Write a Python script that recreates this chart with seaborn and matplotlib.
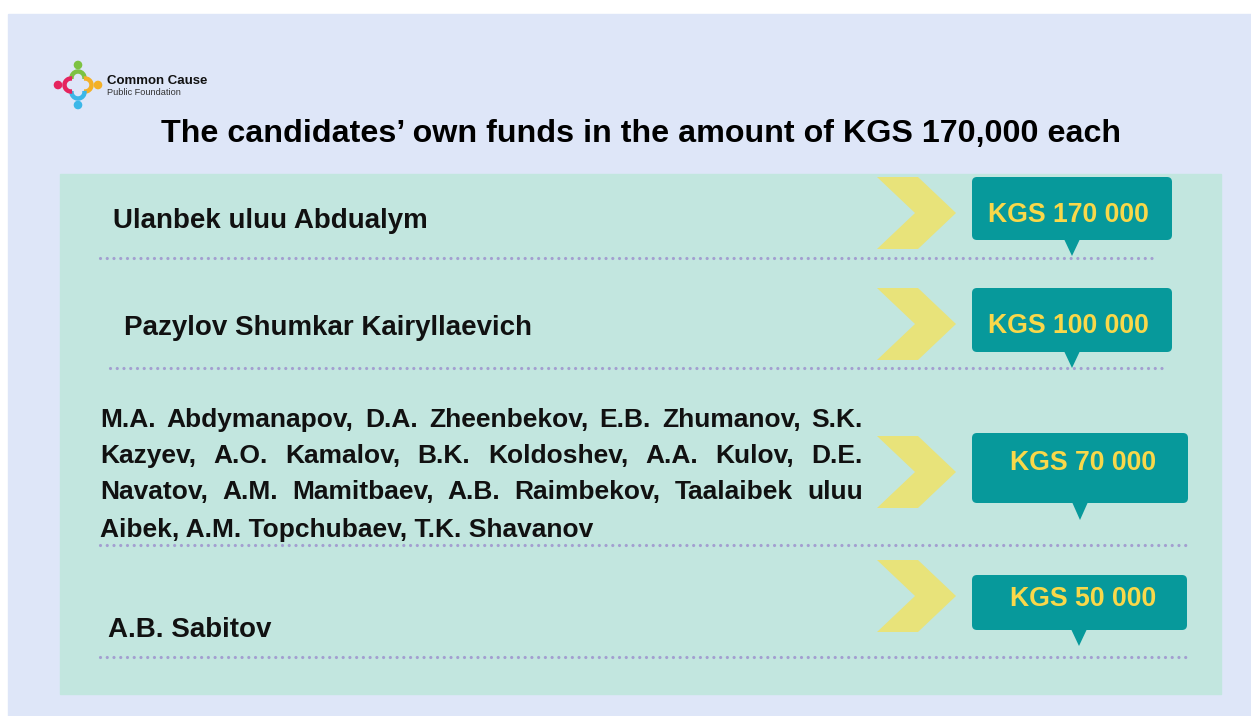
import matplotlib
matplotlib.use("Agg")
import matplotlib.pyplot as plt
import seaborn as sns
from matplotlib.patches import Rectangle, FancyBboxPatch, Polygon, Circle, Arc

# ------------------------------------------------------------
# data
# ------------------------------------------------------------
title = "The candidates\u2019 own funds in the amount of KGS 170,000 each"
org_name = "Common Cause"
org_sub = "Public Foundation"

candidates = [
    ["Ulanbek uluu Abdualym"],
    ["Pazylov Shumkar Kairyllaevich"],
    ["M.A. Abdymanapov, D.A. Zheenbekov, E.B. Zhumanov, S.K.",
     "Kazyev, A.O. Kamalov, B.K. Koldoshev, A.A. Kulov, D.E.",
     "Navatov, A.M. Mamitbaev, A.B. Raimbekov, Taalaibek uluu",
     "Aibek, A.M. Topchubaev, T.K. Shavanov"],
    ["A.B. Sabitov"],
]
amounts = [170000, 100000, 70000, 50000]

# ------------------------------------------------------------
# layout (pixels, y down)
# ------------------------------------------------------------
W, H = 1251, 716
rows = [
    dict(name_x=113, base=[228], size=20, chev=213, box=(972, 177, 1172, 240),
         tip=(1072, 256), lab=(1068, 222), rule=(258, 100, 1157)),
    dict(name_x=124, base=[335], size=20, chev=324, box=(972, 288, 1172, 352),
         tip=(1072, 368), lab=(1068, 333), rule=(368, 110, 1166)),
    dict(name_x=100, base=[427, 463, 499, 537], size=19, chev=472, box=(972, 433, 1188, 503),
         tip=(1080, 520), lab=(1083, 470), rule=(545, 100, 1187)),
    dict(name_x=108, base=[637], size=20, chev=596, box=(972, 575, 1187, 630),
         tip=(1079, 646), lab=(1083, 606), rule=(657, 100, 1187)),
]
JUSTIFY_RIGHT = 863

BG = "#DEE6F8"
MINT = "#C2E6DF"
TEAL = "#07999B"
GOLD = "#F9D84A"
CHEV = "#E8E37A"
DOTS = "#A39FD0"

sns.set_theme(style="white")
plt.rcParams["font.family"] = ["Liberation Sans", "DejaVu Sans"]

fig = plt.figure(figsize=(W / 100, H / 100), dpi=100, facecolor="white")
ax = fig.add_axes([0, 0, 1, 1])
ax.set_xlim(0, W)
ax.set_ylim(H, 0)
ax.axis("off")
renderer = fig.canvas.get_renderer()

# backgrounds
ax.add_patch(Rectangle((8, 14), W - 8, H - 14, color=BG, zorder=0))
ax.add_patch(Rectangle((60, 174), 1161, 520, color=MINT, zorder=1))

# logo
cx, cy = 78, 85
logo = [("#7DC242", 0, -1), ("#F3B027", 1, 0), ("#3BB7E8", 0, 1), ("#E5245E", -1, 0)]
for col, dx, dy in logo:
    ax.add_patch(Circle((cx + dx * 20, cy + dy * 20), 3.6, color=col, zorder=3))
    ang = {(0, -1): 270, (1, 0): 0, (0, 1): 90, (-1, 0): 180}[(dx, dy)]
    ax.add_patch(Arc((cx + dx * 7, cy + dy * 7), 13, 13, theta1=ang - 100, theta2=ang + 100,
                     color=col, lw=3.2, zorder=3))
ax.text(107, 84, org_name, fontsize=9.5, fontweight="bold", color="#111111", va="baseline")
ax.text(107, 95, org_sub, fontsize=6.6, color="#333333", va="baseline")

# title
ax.text(641, 142, title, fontsize=23.2, fontweight="bold", color="black",
        ha="center", va="baseline")


def justify(line, x0, x1, y, size):
    words = line.split()
    texts = [ax.text(0, y, w, fontsize=size, fontweight="bold", color="#111111",
                     va="baseline", zorder=4) for w in words]
    widths = [t.get_window_extent(renderer).width for t in texts]
    gap = (x1 - x0 - sum(widths)) / (len(words) - 1)
    x = x0
    for t, w in zip(texts, widths):
        t.set_x(x)
        x += w + gap


for names, amt, r in zip(candidates, amounts, rows):
    # names
    if len(names) == 1:
        ax.text(r["name_x"], r["base"][0], names[0], fontsize=r["size"], fontweight="bold",
                color="#111111", va="baseline", zorder=4)
    else:
        for i, (line, yb) in enumerate(zip(names, r["base"])):
            if i < len(names) - 1:
                justify(line, r["name_x"], JUSTIFY_RIGHT, yb, r["size"])
            else:
                ax.text(r["name_x"], yb, line, fontsize=r["size"], fontweight="bold",
                        color="#111111", va="baseline", zorder=4)

    # chevron
    cyv = r["chev"]
    ax.add_patch(Polygon([(877, cyv - 36), (918, cyv - 36), (956, cyv), (918, cyv + 36),
                          (877, cyv + 36), (915, cyv)], closed=True, color=CHEV, lw=0, zorder=2))

    # callout box
    x0, y0, x1, y1 = r["box"]
    ax.add_patch(FancyBboxPatch((x0, y0), x1 - x0, y1 - y0,
                                boxstyle="round,pad=0,rounding_size=5",
                                fc=TEAL, ec="none", zorder=3))
    tx, ty = r["tip"]
    ax.add_patch(Polygon([(tx - 8, y1 - 1), (tx + 8, y1 - 1), (tx, ty)], closed=True,
                         color=TEAL, lw=0, zorder=3))
    label = "KGS " + f"{amt:,}".replace(",", " ")
    ax.text(r["lab"][0], r["lab"][1], label, fontsize=19.2, fontweight="bold", color=GOLD,
            ha="center", va="baseline", zorder=4)

    # dotted rule
    ry, rx0, rx1 = r["rule"]
    ax.plot([rx0, rx1], [ry, ry], color=DOTS, lw=2.3, linestyle=(0, (0.01, 2.1)),
            dash_capstyle="round", zorder=2)

fig.savefig("out.png", dpi=100, facecolor="white")
